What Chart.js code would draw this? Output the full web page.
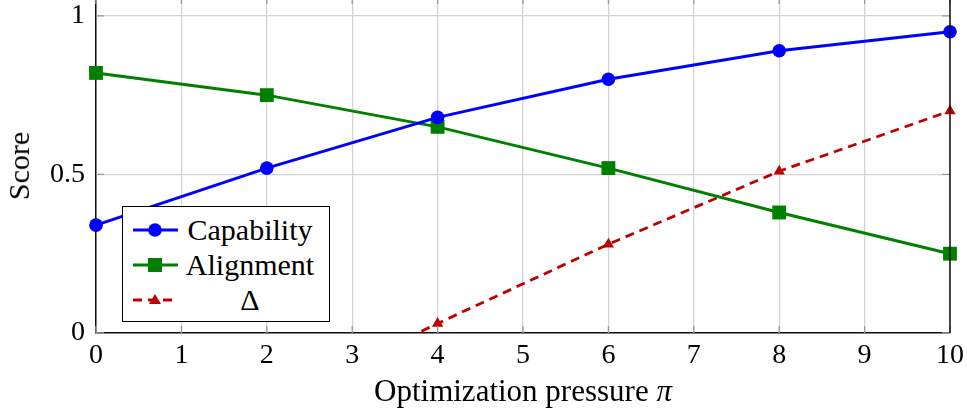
<!DOCTYPE html>
<html>
<head>
<meta charset="utf-8">
<title>Capability vs Alignment</title>
<script src="https://cdn.jsdelivr.net/npm/chart.js@4.4.1/dist/chart.umd.min.js"></script>
<style>
    html, body { margin: 0; padding: 0; background: #fff; }
    #wrap { position: relative; width: 967px; height: 410px; font-family: "Liberation Serif", "Times New Roman", "DejaVu Serif", serif; color: #000; }
    #chart { position: absolute; left: 0; top: 0; }
    .title-x { position: absolute; left: 96px; width: 854px; top: 375px; text-align: center; font-size: 31px; line-height: 32px; }
    .title-y { position: absolute; left: 19px; top: 166px; font-size: 30px; line-height: 32px;
               transform: translate(-50%, -50%) rotate(-90deg); white-space: nowrap; }
    #legend { position: absolute; left: 122px; top: 206px; width: 208px; height: 116px;
              border: 1.3px solid #000; background: #fff; box-sizing: border-box; }
    .row { position: absolute; left: 0; width: 100%; height: 34px; }
    .row svg { position: absolute; left: 9px; top: 0; }
    .row span { position: absolute; left: 62px; width: 130px; text-align: center; font-size: 30px; line-height: 34px; top: 0; }
</style>
</head>
<body>
<div id="wrap">
    <canvas id="chart" width="967" height="410"></canvas>
    <div class="title-y">Score</div>
    <div class="title-x">Optimization pressure <i>π</i></div>
    <div id="legend"></div>
</div>
<script>
// Données
const xValues = [0, 2, 4, 6, 8, 10];
const capability = [0.34, 0.52, 0.68, 0.80, 0.89, 0.95];
const alignment = [0.82, 0.75, 0.65, 0.52, 0.38, 0.25];
const delta = [-0.48, -0.23, 0.03, 0.28, 0.51, 0.70];
const seriesNames = ['Capability', 'Alignment', 'Δ'];
const yTicks = [0, 0.5, 1];

const colors = ['#0000ff', '#008000', '#bf0000'];
const markers = ['circle', 'rect', 'triangle'];
const font = { family: '"Liberation Serif", "Times New Roman", "DejaVu Serif", serif', size: 28 };

function toPoints(values) {
    return xValues.map((x, i) => ({ x: x, y: values[i] }));
}

// Cadre droit + petites graduations vers l'intérieur
const frame = {
    id: 'frame',
    afterDatasetsDraw(chart) {
        const { ctx, chartArea: a, scales } = chart;
        ctx.save();
        ctx.strokeStyle = '#999';
        ctx.lineWidth = 1.3;
        ctx.beginPath();
        scales.x.ticks.forEach(t => {
            const px = scales.x.getPixelForValue(t.value);
            ctx.moveTo(px, a.bottom); ctx.lineTo(px, a.bottom - 7);
            ctx.moveTo(px, a.top); ctx.lineTo(px, a.top + 4);
        });
        yTicks.forEach(v => {
            const py = scales.y.getPixelForValue(v);
            ctx.moveTo(a.left, py); ctx.lineTo(a.left + 8, py);
            ctx.moveTo(a.right, py); ctx.lineTo(a.right - 8, py);
        });
        ctx.stroke();
        ctx.strokeStyle = '#111';
        ctx.lineWidth = 1.5;
        ctx.beginPath();
        ctx.moveTo(a.right, a.top); ctx.lineTo(a.right, a.bottom);
        ctx.stroke();
        ctx.restore();
    }
};

function makeDataset(label, values, i) {
    return {
        label: label,
        data: toPoints(values),
        borderColor: colors[i],
        backgroundColor: colors[i],
        borderWidth: i === 2 ? 2.8 : 3,
        borderDash: i === 2 ? [9, 6] : [],
        pointStyle: markers[i],
        pointRadius: i === 0 ? 6.8 : (i === 1 ? 9.8 : 6.5),
        pointBorderWidth: 0,
        tension: 0,
        clip: { left: 12, right: 12, top: 12, bottom: 0 }
    };
}

new Chart(document.getElementById('chart'), {
    type: 'line',
    data: {
        datasets: [
            makeDataset(seriesNames[0], capability, 0),
            makeDataset(seriesNames[1], alignment, 1),
            makeDataset(seriesNames[2], delta, 2)
        ]
    },
    options: {
        responsive: false,
        animation: false,
        layout: { autoPadding: false, padding: { top: 0, right: 17, bottom: 0, left: 0 } },
        plugins: { legend: { display: false }, tooltip: { enabled: false } },
        scales: {
            x: {
                type: 'linear', min: 0, max: 10,
                ticks: { stepSize: 1, color: '#000', font: font, padding: 6 },
                grid: { color: '#d4d4d4', lineWidth: 1.3, drawTicks: false },
                border: { color: '#111', width: 1.5 },
                afterFit(scale) { scale.height = 77; scale.paddingLeft = 0; scale.paddingRight = 0; }
            },
            y: {
                type: 'linear', min: 0, max: 1.05,
                afterBuildTicks(scale) { scale.ticks = yTicks.map(v => ({ value: v })); },
                ticks: { color: '#000', font: font, padding: 11, callback: v => String(v) },
                grid: { color: '#d4d4d4', lineWidth: 1.3, drawTicks: false },
                border: { color: '#111', width: 1.5 },
                afterFit(scale) { scale.width = 96; scale.paddingTop = 0; scale.paddingBottom = 0; }
            }
        }
    },
    plugins: [frame]
});

// Légende (HTML)
const legend = document.getElementById('legend');
seriesNames.forEach((name, i) => {
    const row = document.createElement('div');
    row.className = 'row';
    row.style.top = (6 + 35 * i) + 'px';
    let mark = '';
    if (i === 0) mark = `<circle cx="23" cy="17" r="6.8" fill="${colors[i]}"/>`;
    if (i === 1) mark = `<rect x="16" y="10" width="14" height="14" fill="${colors[i]}"/>`;
    if (i === 2) mark = `<polygon points="23,11 29,21 17,21" fill="${colors[i]}"/>`;
    const dash = i === 2 ? 'stroke-dasharray="9 6"' : '';
    row.innerHTML = `<svg width="50" height="34"><line x1="1" y1="17" x2="46" y2="17" stroke="${colors[i]}" stroke-width="3" ${dash}/>${mark}</svg><span>${name}</span>`;
    legend.appendChild(row);
});
</script>
</body>
</html>
